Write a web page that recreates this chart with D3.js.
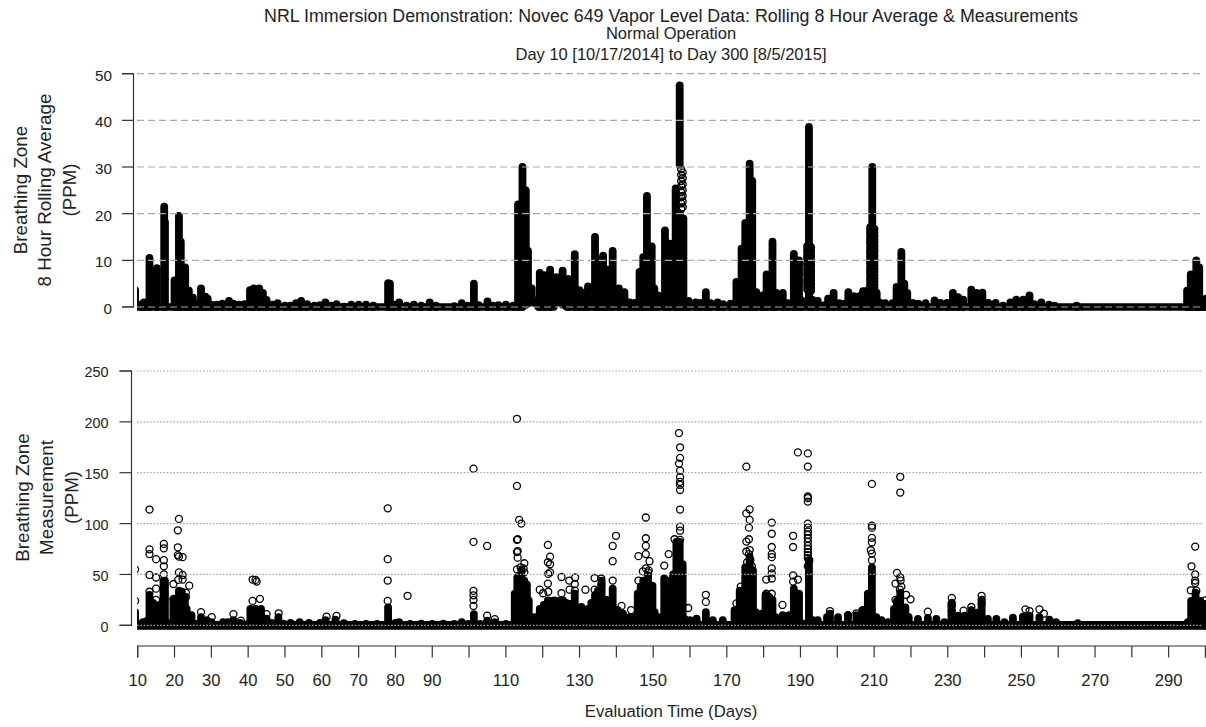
<!DOCTYPE html>
<html><head><meta charset="utf-8">
<script src="https://cdn.jsdelivr.net/npm/d3@7"></script>
<style>html,body{margin:0;padding:0;background:#fff}svg{display:block}text{font-family:"Liberation Sans",Arial,sans-serif;fill:#222}</style>
</head><body><div id="c"></div>
<script>
const titleLines=["NRL Immersion Demonstration: Novec 649 Vapor Level Data: Rolling 8 Hour Average & Measurements","Normal Operation","Day 10 [10/17/2014] to Day 300 [8/5/2015]"];
const xTitle="Evaluation Time (Days)";
const topYLabel=["Breathing Zone","8 Hour Rolling Average","(PPM)"];
const botYLabel=["Breathing Zone","Measurement","(PPM)"];
const xTicks=[10,20,30,40,50,60,70,80,90,100,110,120,130,140,150,160,170,180,190,200,210,220,230,240,250,260,270,280,290,300];
const xLabelled=[10,20,30,40,50,60,70,80,90,110,130,150,170,190,210,230,250,270,290];
const topTicks=[0,10,20,30,40,50];
const botTicks=[0,50,100,150,200,250];

// Rolling average: columns of stacked readings [day, highest, lowest (default 0)]
const rollColumns=[[9.3,3.6],[11.2,.6],[11.7,1],[13.2,10.5],[15.2,8.3],[17.2,21.5],[17.4,18.2],[20,5.7],[21.2,19.5],[21.7,14],[22.9,8.5],[23.9,3.5],[25,2],[26.2,.6],
[27.2,4],[28.4,2.2],[29,1.8],[30,.5],[31.5,.5],[33,.7],[34.8,1.3],[36,.7],[37.5,.5],[39,.6],[40.5,3.6],[41.5,4],[43,4],[44,3],[45,1.5],[46.5,.5],[48,.8],[50,.3],[51.5,.3],[53,.8],[54.4,1.3],[56,.6],[58,.3],[59.5,.4],[61,1],[62.5,.3],[64,.6],[66,.1],[68,.5],[70,.5],[72,.5],[74,.3],
[78,5.1],[78.5,5],[79.6,.5],[81,1],[83,.3],[85,.5],[87,.3],[89.3,1],[91,.3],[96,.2],[98,.8],[99.6,.3],[101.3,5],[102.6,.4],[105,1.2],[106.5,.3],[108,.4],[110,.5],[112,.3],
[113.3,22],[114.5,30],[115.4,25,.5],[116,12,.8],[117,4,1],[118,1.4,.8],[119.2,7.3],[120.5,6.8],[122,8],[123.7,6.4,.9],[125.4,7.8,.5],[126.9,6],[128.7,11.3],[130,3.6],[131.2,3],[132.3,4.4],[134.2,15],[135.3,10],[136.4,11],[137.6,8],[139,12],[140.7,4],[142.2,3.2],[143.6,1],[145,.9],
[146.3,7.5],[147.3,10.7],[148.3,23.8],[149.6,13],[150.3,4],[151.3,2.5],[153.2,16.4],[154.5,13.6],[156.1,25.4],[157.2,47.5,30.5],[157.2,20],[158.2,19],[159.6,1.3],[161.5,1],[162.8,.9],[164.3,3.2],[165.6,.8],[167.5,1],[169,.6],[171,.7],
[172.6,5.4],[174,12.5],[175,18],[176.2,30.7],[176.9,27],[178,3.2],[179.7,2.5],[180.8,7],[182.4,14],[183.4,3],[185.2,3],[186.6,.8],[188.2,11.4],[189.6,10],[190.3,1.4],[192.3,38.6,13.5],[192.3,3],[193.3,1.5],[194.7,1.3],[196.5,.4],[197.5,1.8],[199,3],[200.5,.8],[202,.7],[203,3.2],[204.5,2.3],[206,2.3],[207,3.4],
[208.3,3.6],[209.5,30,17.5],[209.5,3.6],[210.7,3],[211.5,1],[213,.8],[215,.8],[216.1,4.3],[217.4,11.8],[218.2,5],[219,3],[220.5,.9],[222,.7],[224,.8],[226.4,1.4],[228,.9],[229.8,.9],[231.4,3],[232.8,2.1],[234.2,1.6],[236.4,3.7],[237.8,3],[239.4,3.1],[241,.9],[243,.9],[245,.3],[247,1],[248.6,1.6],[250.5,1.6],[252.2,2.5],[253.5,.6],[255.4,1],[257.5,.5],[259,.3],[265,.3],
[295,3.5],[296,7],[297.5,10],[298.3,8.5],[299.3,.1],[300.2,1.8]];
// Loose stack of open circles where the column lets white through [day, ppm]
const rollOpenLoose=[[157.6,29.5],[157.6,28.3],[157.6,27],[157.6,25.9],[157.6,24.6],[157.6,23.5],[157.6,22.2],[157.6,21],[158,28.8],[158,27.6],[158,26.3],[158,25],[158,23.8],[158,22.6],[158,21.4]];
// Dense stacks: mostly black with a few specks [day, ppm]
const rollOpenDense=[[192,13],[192,12.3],[192,11.7],[192,10.9],[192,10.3],[192,9.4],[192,8.9],[192,8.1],[192,7.4],[192,6.8],[192,5.9],[192,5.3],[192,4.6],[192,3.8],[192.7,12.8],[192.7,12],[192.7,11.2],[192.7,10.7],[192.7,9.8],[192.7,9.1],[192.7,8.5],[192.7,7.7],[192.7,7],[192.7,6.3],[192.7,5.6],[192.7,4.9],[192.7,4.2],[192.7,3.5],
[209.1,17],[209.1,16.2],[209.1,15.6],[209.1,14.8],[209.1,14.1],[209.1,13.5],[209.1,12.7],[209.1,12],[209.1,11.4],[209.1,10.6],[209.1,9.9],[209.1,9.3],[209.1,8.5],[209.1,7.8],[209.1,7.2],[209.1,6.4],[209.1,5.8],[209.1,5],[209.1,4.3],
[209.9,16.7],[209.9,16],[209.9,15.2],[209.9,14.5],[209.9,13.9],[209.9,13.1],[209.9,12.4],[209.9,11.8],[209.9,11],[209.9,10.3],[209.9,9.6],[209.9,8.9],[209.9,8.2],[209.9,7.6],[209.9,6.8],[209.9,6.1],[209.9,5.4],[209.9,4.7],[209.9,4]];
// Base row of near-zero readings, as [start day, end day]
const rollBase=[[9.5,114],[118.8,123],[126.5,300.5]];

// Single measurements: solid mass per day [day, top of mass]
const measColumns=[[9.3,13],[11.4,3],[12.4,4],[13.2,30],[14.2,22],[15,15],[16,20],[17,44],[17.4,44],[18.4,2],[19.7,25],[20.4,25],[21.2,34],[22,33],[22.8,28],[23.3,16],[24.6,10],[25.5,1.5],[27.2,8],[28.8,5],[30,3],[31.4,.6],[33.2,3],[34.5,3],[36,5],[37.8,2.3],[39.2,1],[40.6,16],[42,16],[43.5,16],[45,6.5],[46.4,2.3],[48.2,8],[49.6,1.6],[51.5,2.3],[54,3],[56.5,2.3],[59.5,2.3],[61,5],[63.7,5.6],[66,2],[69,1.3],[72,1.3],[75,1.3],
[78,17.7],[80,2.3],[81,3],[84,1.3],[87,1.5],[90,1.3],[93,1.5],[96,1.3],[98,3],[99.8,1.3],[101.3,11],[103,1.3],[104.9,4.6],[107,3],[110,1.3],
[112.4,31],[113.1,47],[114.2,54],[115,44],[115.7,40],[116.2,24.6],[117,8],[118,8],[119.2,16],[120.3,20],[121.4,24.6],[122.4,24],[123.2,24.6],[124.4,24],[125.5,24.6],[126.4,22],[127.3,21],[128.7,31],[130.5,18],[132.3,16],[133.2,22],[134.2,30],[135,34],[136,44],[137.3,25],[139,36],[140.4,15],[141.8,11.5],[143.6,8],[145,8],
[145.8,31],[146.6,38],[147.3,44],[148.6,49],[149.8,39],[150.4,13],[151.8,8],[153,46],[154.5,44],[155.4,50],[156.3,82],[157.2,82],[158,60],[158.6,6],[160,5],[161.8,6.5],[164.3,13],[166.2,5],[168.9,5],[172.1,15],[173.5,34],[175,57],[176.2,67],[177.1,54],[177.8,13],[179.3,11.5],[180.5,30],[181.5,28],[182.4,25],[183.3,8],[185.2,10],[186.9,10],[188.2,36],[189.6,31],[190.4,2],[192.3,64],[193.4,5],[194.7,5],[197.2,8],[198,11.5],[200.2,8],[202.9,10],[205.2,10],[207,15],[208.3,31],[209.4,57],[210.6,8],
[212,5],[213.8,3],[215.4,16],[216.2,24],[217.1,32],[218.5,17.7],[219.4,8],[221.9,6.3],[224.6,7.2],[226.9,6.3],[229.1,3],[231,21],[232.8,9.5],[234.6,9.5],[236.4,15],[237.7,12.5],[239.2,24],[240.9,6.3],[243.2,6.3],[245.4,3],[247.7,7.5],[250.4,8.5],[252.2,9.5],[254.9,8],[257.6,5.5],[259.4,3],[265.3,2],[295.2,3],[296.1,24],[297.3,32],[298.6,24],[299.3,4.5],[300,21]];
// Open circles standing clear of the mass [day, ppm]
const measOpen=[[9.3,55],[9.3,24],[13.2,113.8],[13.2,74.7],[13.2,70],[13.2,49.5],[13.2,33],[15,65],[15,47],[15,36],[15,25],[17.1,80],[17.1,75.7],[17.1,64],[17.1,58],[17.1,50],[21.2,104.6],[20.9,93.4],[20.9,76.7],[20.9,69],[21.2,67.5],[22.2,67],[21.2,52],[22.2,49.5],[19.7,40.6],[24,39],[21,44.6],[22.2,45],[23.1,32],[23.1,27.6],[19.7,26],
[27.2,13],[30.1,8],[36,11],[38,4.6],[41.2,45],[42,44.6],[42.3,43],[41.2,24],[43.2,26],[45,11],[48.3,11.8],[61.3,8.5],[64,9.2],[77.9,115],[77.9,65],[77.9,44],[77.9,24],[83.3,29],
[101.2,154],[101.2,82],[101.2,33.8],[101.2,29.5],[101.2,25],[101.2,19],[104.9,78],[104.9,9.5],[107,6],
[113,203],[113,137],[113.6,103.6],[114.2,100],[113.2,84.6],[113,84],[113.2,73],[113,72],[113.2,66.5],[115,61],[114,57],[113,55],[115,52],[114.8,56],
[121.4,79],[122,67.5],[121.4,62],[122,60],[121.5,50.5],[122,52],[121.4,41],[119.2,35],[120.1,31.5],[121.5,33],[125.1,47.5],[127.2,44],[128.8,47],[127.3,35],[128.7,40.6],[128.7,34],[125.1,31.5],[131.6,35],[134.1,46.5],[134.1,35],[135.9,46],[135.9,40],
[139,78],[139.9,88],[139,63],[139,44],[141.4,19],[144,15],[146,68],[148,106],[148,85.6],[148,78],[148,70],[149,63],[146,44],[147.2,53],[148.6,52],[148,56],[148.8,54],[153,58.7],[154.2,70],[155.8,84.6],
[157,189],[157.3,175],[157.3,164.6],[157,159],[157.3,152],[157.3,145.6],[157.3,141],[157.3,138],[157.3,133],[157.3,113.8],[157.3,97],[157.3,93],[157.3,84],[159.5,17],[164.3,30],[164.3,23],
[172.6,21.6],[173.8,38],[175.3,156],[176.2,114],[175.3,110],[176.2,103.6],[176,96],[176,84.6],[175.3,82.3],[176.2,74],[175.3,72.5],[176.4,64],[176,70],[175.5,62],[176.8,58],
[182.2,101],[182.2,90],[182.2,77],[182.2,70],[182.2,67],[182.2,56],[182.2,51],[182.2,46],[180.7,45],[182.2,31],[180.7,31],[185.1,20],[188,88],[188,77],[188,49],[188,43],[189.3,45],[189.3,170],
[192,169],[192,156],[192,126.6],[192,125],[192,121.6],[192,100],[192,96],[192,92],[192,89],[192,85.6],[192,82],[192,78],[192,75],[192,72],[192,69],[192,66],[192.4,64],[192,58],[198,14],[202.9,10],[205.2,11.8],[207,15],[206.8,14.7],
[209.4,139],[209.4,98],[209.4,96],[209.4,86],[209.4,81.6],[209.1,73.8],[209.4,70.5],[209.4,64],[216.2,51.5],[217.1,47],[217.1,130.5],[217.1,146],[215.8,41],[217.4,38],[217.2,44],[217,35],[215.8,25],[219.9,25.5],[218.7,30],[224.6,13.4],
[231.1,27],[231.1,22],[231.1,19],[231.1,14],[234.3,14.4],[236.4,18],[239.2,29],[239.2,25],[239.2,21],[251.1,15.7],[252.2,14],[254.9,15.7],[256.1,11.5],
[297.2,77.4],[296.2,58],[297.2,50],[297.2,44],[297.2,41.6],[296,34.4],[297.5,34],[300,24.6]];
const measBase=[[9.5,300.5]];

const W=1206,H=727;
const svg=d3.select("#c").append("svg").attr("width",W).attr("height",H);
const x=d3.scaleLinear().domain([10,300]).range([137.7,1205.5]);
const yTop=d3.scaleLinear().domain([0,50]).range([307,73.7]);
const yBot=d3.scaleLinear().domain([0,250]).range([625.3,371]);
svg.append("defs").append("clipPath").attr("id","plot").append("rect").attr("x",137).attr("y",60).attr("width",1069).attr("height",590);
const marks=svg.append("g").attr("clip-path","url(#plot)");
const STEM=7.8,OPEN_R=3.5;

function stems(y,cols){
  marks.append("g").selectAll("line").data(cols).join("line")
    .attr("x1",p=>x(p[0])).attr("x2",p=>x(p[0])).attr("y1",p=>y(p[2]||0)).attr("y2",p=>y(p[1]))
    .attr("stroke","#000").attr("stroke-width",STEM).attr("stroke-linecap","round");
}
function base(y,spans,w){
  marks.append("g").selectAll("line").data(spans).join("line")
    .attr("x1",p=>x(p[0])).attr("x2",p=>x(p[1])).attr("y1",y(0)).attr("y2",y(0))
    .attr("stroke","#000").attr("stroke-width",w).attr("stroke-linecap","round");
}
function open(y,pts,sw){
  marks.append("g").selectAll("circle").data(pts).join("circle")
    .attr("cx",p=>x(p[0])).attr("cy",p=>y(p[1])).attr("r",OPEN_R)
    .attr("fill","none").attr("stroke","#000").attr("stroke-width",sw);
}
base(yTop,rollBase,7.6);
stems(yTop,rollColumns);
open(yTop,rollOpenLoose,1.4);
open(yTop,rollOpenDense,2.4);
base(yBot,measBase,8.8);
stems(yBot,measColumns);
open(yBot,measOpen,1.3);

// grid
const grid=(y,ticks,dash)=>svg.append("g").selectAll("line").data(ticks).join("line")
  .attr("x1",137).attr("x2",1203).attr("y1",t=>y(t)).attr("y2",t=>y(t))
  .attr("stroke","#a8a8a8").attr("stroke-width",1.2).attr("stroke-dasharray",dash);
grid(yTop,topTicks,"7,4");
grid(yBot,botTicks,"1.6,1.7");

// axes
function style(size,dy){return g=>{g.selectAll("path,line").attr("stroke","#333").attr("stroke-width",1.2);
  g.selectAll("text").attr("font-size",size).attr("fill","#222").style("font-family",'"Liberation Sans",Arial,sans-serif');
  if(dy)g.selectAll("text").attr("dy",dy);};}
svg.append("g").attr("transform","translate(133.5,0)").call(d3.axisLeft(yTop).tickValues(topTicks).tickFormat(d3.format("d")).tickSizeOuter(0).tickSize(11.5).tickPadding(10).offset(0)).call(style(15.2,"0.45em"));
svg.append("g").attr("transform","translate(131.5,0)").call(d3.axisLeft(yBot).tickValues(botTicks).tickFormat(d3.format("d")).tickSizeOuter(0).tickSize(12).tickPadding(11).offset(0)).call(style(14.4,"0.45em"));
svg.append("g").attr("transform","translate(0,646)").call(d3.axisBottom(x).tickValues(xTicks).tickFormat(v=>xLabelled.includes(v)?v:"").tickSizeOuter(0).tickSize(11.5).tickPadding(17).offset(0)).call(style(16.6));

// titles
const tY=[22,39,60],tS=[17.85,16.5,16.5];
svg.selectAll("text.t").data(titleLines).join("text").attr("class","t").attr("x",671).attr("y",(d,i)=>tY[i]).attr("text-anchor","middle").attr("font-size",(d,i)=>tS[i]).text(d=>d);
svg.append("text").attr("x",671).attr("y",717).attr("text-anchor","middle").attr("font-size",16.7).text(xTitle);
function yLabel(lines,xs,cy){lines.forEach((s,i)=>svg.append("text").attr("transform",`translate(${xs[i]},${cy}) rotate(-90)`).attr("text-anchor","middle").attr("font-size",18.8).text(s));}
yLabel(topYLabel,[27,51,76],190);
yLabel(botYLabel,[29,53,78],497.5);
</script></body></html>
